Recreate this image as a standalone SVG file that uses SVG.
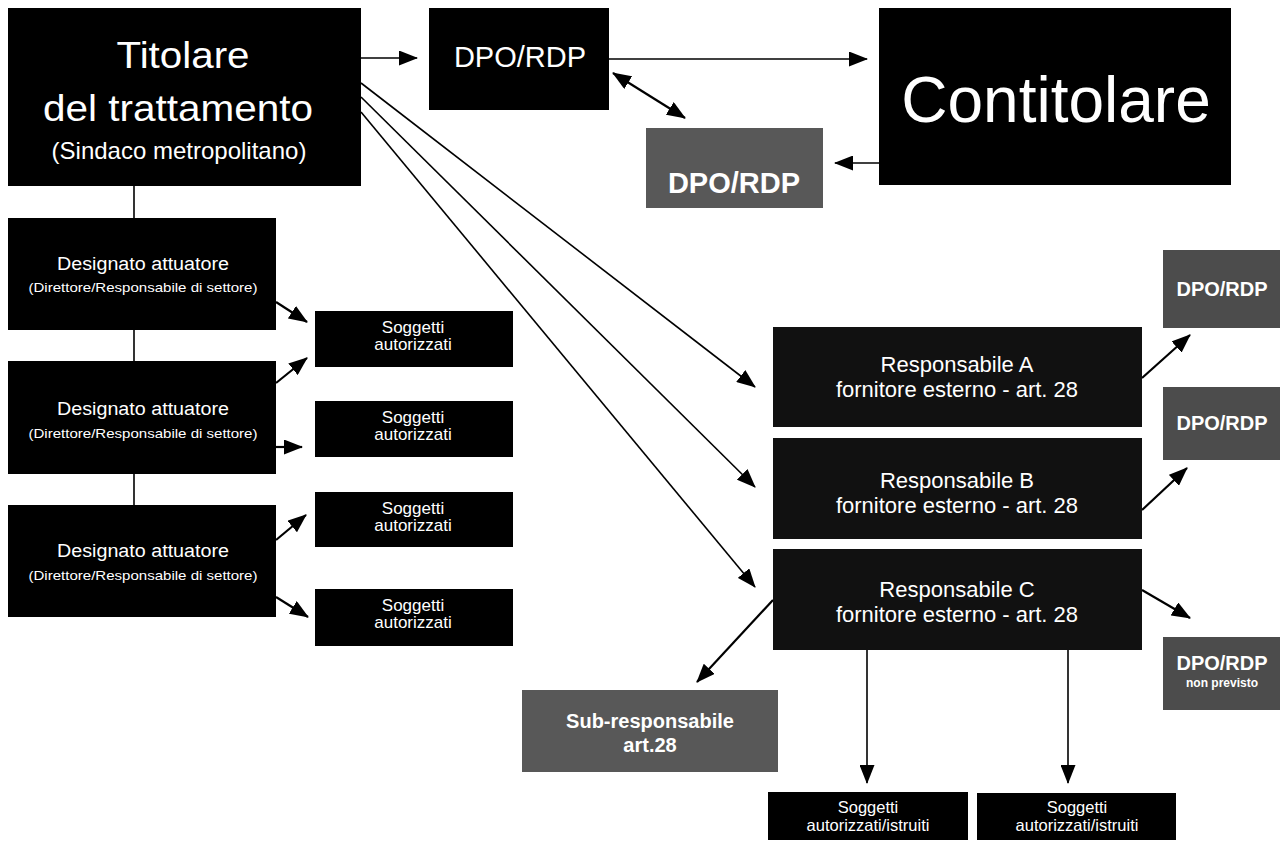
<svg xmlns="http://www.w3.org/2000/svg" width="1285" height="842" viewBox="0 0 1285 842">
<style>
text{font-family:"Liberation Sans",Arial,sans-serif;fill:#fff;text-anchor:middle}
.blk{fill:#000}
.res{fill:#111}
.gry{fill:#585858}
.gr2{fill:#4c4c4c}
.b{font-weight:bold}
.ln{stroke:#000;stroke-width:1.6;fill:none}
.ar{stroke:#000;stroke-width:2.2;fill:none;marker-end:url(#ah)}
.al{stroke:#000;stroke-width:1.6;fill:none;marker-end:url(#ah)}
</style>
<defs>
<marker id="ah" markerUnits="userSpaceOnUse" viewBox="0 0 19 15" markerWidth="19" markerHeight="15" refX="18" refY="7.5" orient="auto-start-reverse">
<path d="M0,0 L19,7.5 L0,15 z" fill="#000"/>
</marker>
</defs>
<rect width="1285" height="842" fill="#fff"/>

<g id="connectors">
<line class="ln" x1="134" y1="186" x2="134" y2="218"/>
<line class="ln" x1="134" y1="330" x2="134" y2="361"/>
<line class="ln" x1="134" y1="474" x2="134" y2="505"/>
<line class="al" x1="361" y1="58" x2="417" y2="58"/>
<line class="al" x1="609" y1="59" x2="867" y2="59"/>
<line class="ar" x1="613" y1="73" x2="685" y2="118" marker-start="url(#ah)"/>
<line class="al" x1="879" y1="163" x2="835" y2="163"/>
<line class="al" x1="361" y1="83" x2="755" y2="387"/>
<line class="al" x1="361" y1="97" x2="755" y2="487"/>
<line class="al" x1="361" y1="112" x2="755" y2="587"/>
<line class="ar" x1="276" y1="302" x2="307" y2="322"/>
<line class="ar" x1="276" y1="383" x2="307" y2="358"/>
<line class="ar" x1="276" y1="447" x2="302" y2="447"/>
<line class="ar" x1="276" y1="540" x2="306" y2="515"/>
<line class="ar" x1="276" y1="597" x2="308" y2="617"/>
<line class="ar" x1="1142" y1="378" x2="1190" y2="335"/>
<line class="ar" x1="1142" y1="510" x2="1187" y2="468"/>
<line class="ar" x1="1142" y1="590" x2="1190" y2="618"/>
<line class="ar" x1="773" y1="600" x2="697" y2="682"/>
<line class="al" x1="867" y1="650" x2="867" y2="783"/>
<line class="al" x1="1068" y1="650" x2="1068" y2="783"/>
</g>

<g id="titolare">
<rect class="blk" x="8" y="8" width="353" height="178"/>
<text x="183" y="68" font-size="37" textLength="133" lengthAdjust="spacingAndGlyphs">Titolare</text>
<text x="178" y="121" font-size="37" textLength="270" lengthAdjust="spacingAndGlyphs">del trattamento</text>
<text x="179" y="159" font-size="24">(Sindaco metropolitano)</text>
</g>

<g id="dpo-top">
<rect class="blk" x="429" y="8" width="180" height="102"/>
<text x="520" y="67" font-size="29">DPO/RDP</text>
</g>

<g id="contitolare">
<rect class="blk" x="879" y="8" width="352" height="177"/>
<text x="1056" y="122" font-size="64">Contitolare</text>
</g>

<g id="dpo-contitolare">
<rect class="gry" x="646" y="128" width="177" height="80"/>
<text class="b" x="734" y="193" font-size="29">DPO/RDP</text>
</g>

<g id="designato-1">
<rect class="blk" x="8" y="218" width="268" height="112"/>
<text x="143" y="270" font-size="18" textLength="172" lengthAdjust="spacingAndGlyphs">Designato attuatore</text>
<text x="143" y="292" font-size="13" textLength="229" lengthAdjust="spacingAndGlyphs">(Direttore/Responsabile di settore)</text>
</g>
<g id="designato-2">
<rect class="blk" x="8" y="361" width="268" height="113"/>
<text x="143" y="415" font-size="18" textLength="172" lengthAdjust="spacingAndGlyphs">Designato attuatore</text>
<text x="143" y="438" font-size="13" textLength="229" lengthAdjust="spacingAndGlyphs">(Direttore/Responsabile di settore)</text>
</g>
<g id="designato-3">
<rect class="blk" x="8" y="505" width="268" height="112"/>
<text x="143" y="557" font-size="18" textLength="172" lengthAdjust="spacingAndGlyphs">Designato attuatore</text>
<text x="143" y="580" font-size="13" textLength="229" lengthAdjust="spacingAndGlyphs">(Direttore/Responsabile di settore)</text>
</g>

<g id="soggetti-1">
<rect class="blk" x="315" y="311" width="198" height="56"/>
<text x="413" y="333" font-size="17">Soggetti</text>
<text x="413" y="350" font-size="17">autorizzati</text>
</g>
<g id="soggetti-2">
<rect class="blk" x="315" y="401" width="198" height="56"/>
<text x="413" y="423" font-size="17">Soggetti</text>
<text x="413" y="440" font-size="17">autorizzati</text>
</g>
<g id="soggetti-3">
<rect class="blk" x="315" y="492" width="198" height="55"/>
<text x="413" y="514" font-size="17">Soggetti</text>
<text x="413" y="531" font-size="17">autorizzati</text>
</g>
<g id="soggetti-4">
<rect class="blk" x="315" y="589" width="198" height="57"/>
<text x="413" y="611" font-size="17">Soggetti</text>
<text x="413" y="628" font-size="17">autorizzati</text>
</g>

<g id="responsabile-a">
<rect class="res" x="773" y="327" width="369" height="100"/>
<text x="957" y="372" font-size="22">Responsabile A</text>
<text x="957" y="397" font-size="22">fornitore esterno - art. 28</text>
</g>
<g id="responsabile-b">
<rect class="res" x="773" y="438" width="369" height="101"/>
<text x="957" y="488" font-size="22">Responsabile B</text>
<text x="957" y="513" font-size="22">fornitore esterno - art. 28</text>
</g>
<g id="responsabile-c">
<rect class="res" x="773" y="549" width="369" height="101"/>
<text x="957" y="597" font-size="22">Responsabile C</text>
<text x="957" y="622" font-size="22">fornitore esterno - art. 28</text>
</g>

<g id="dpo-a">
<rect class="gr2" x="1163" y="250" width="117" height="78"/>
<text class="b" x="1222" y="296" font-size="20">DPO/RDP</text>
</g>
<g id="dpo-b">
<rect class="gr2" x="1163" y="387" width="117" height="73"/>
<text class="b" x="1222" y="430" font-size="20">DPO/RDP</text>
</g>
<g id="dpo-c">
<rect class="gr2" x="1163" y="637" width="117" height="73"/>
<text class="b" x="1222" y="670" font-size="20">DPO/RDP</text>
<text class="b" x="1222" y="687" font-size="12">non previsto</text>
</g>

<g id="sub-responsabile">
<rect class="gry" x="522" y="690" width="256" height="82"/>
<text class="b" x="650" y="728" font-size="20">Sub-responsabile</text>
<text class="b" x="650" y="752" font-size="20">art.28</text>
</g>

<g id="soggetti-istruiti-1">
<rect class="blk" x="768" y="792" width="200" height="48"/>
<text x="868" y="813" font-size="16.5">Soggetti</text>
<text x="868" y="831" font-size="16.5">autorizzati/istruiti</text>
</g>
<g id="soggetti-istruiti-2">
<rect class="blk" x="977" y="793" width="199" height="47"/>
<text x="1077" y="813" font-size="16.5">Soggetti</text>
<text x="1077" y="831" font-size="16.5">autorizzati/istruiti</text>
</g>
</svg>
